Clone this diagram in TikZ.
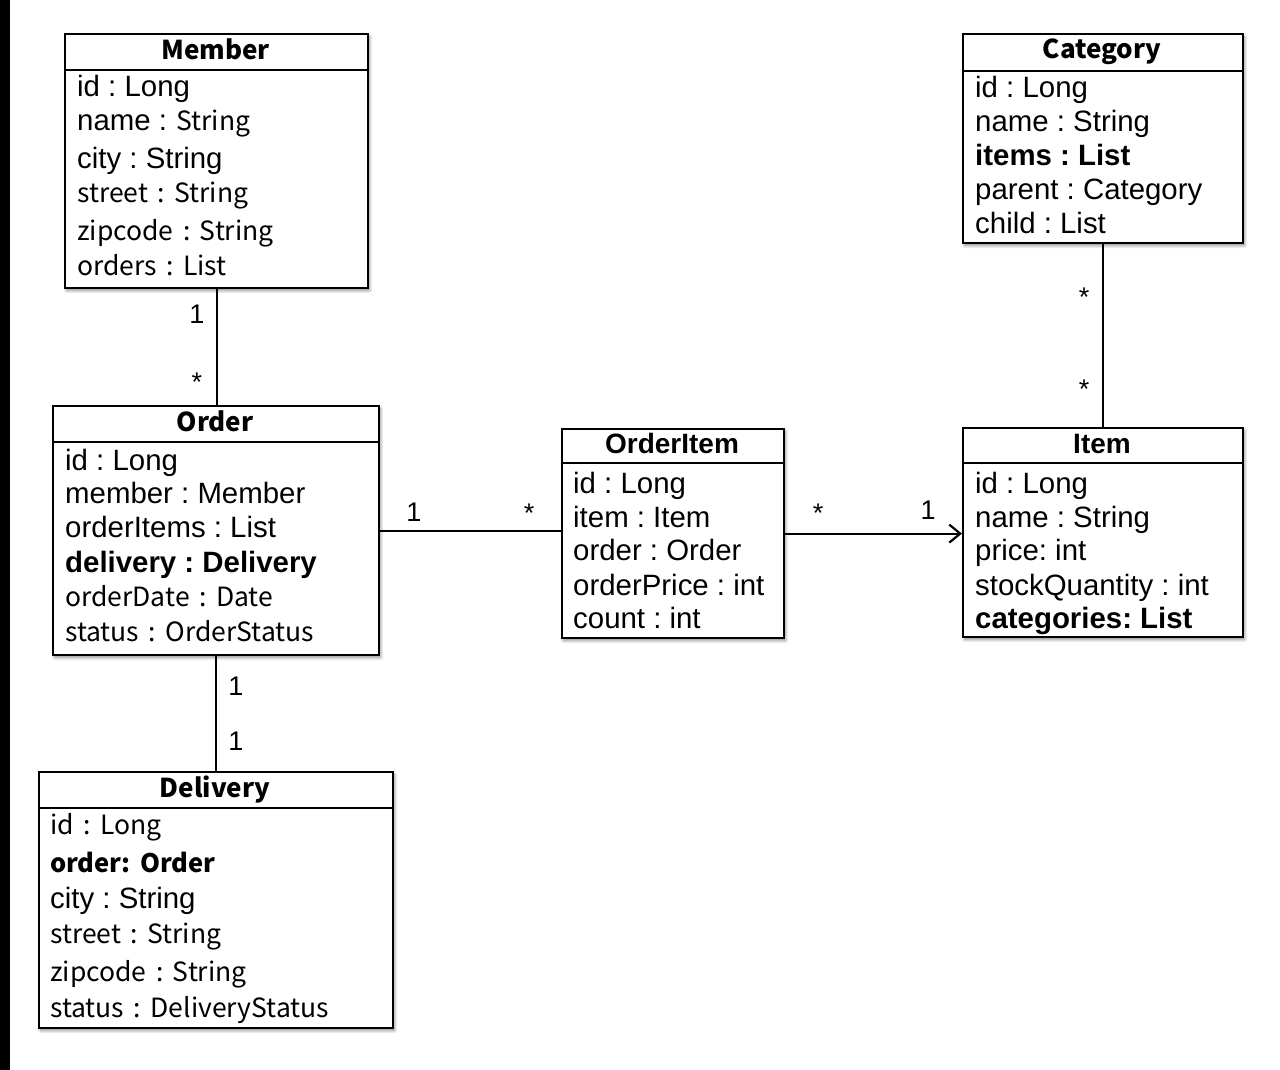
\documentclass[tikz,border=0pt]{standalone}
\usepackage{fontspec}
\setmainfont{Liberation Sans}
\newfontfamily\gothic[WordSpace=1.6]{Noto Sans CJK KR}
\usetikzlibrary{arrows.meta,shadows.blur}
\newcommand\gs{\gothic\fontsize{26.5}{30}\selectfont}
\frenchspacing
\begin{document}
\begin{tikzpicture}[x=1pt,y=-1pt,
  classbox/.style={draw=black, line width=2.2pt, fill=white, inner sep=0pt, anchor=north west,
    blur shadow={shadow xshift=1.5pt, shadow yshift=-2.5pt, shadow blur radius=3pt, shadow blur steps=8, shadow opacity=45}},
  divider/.style={line width=2pt},
  attr/.style={anchor=base west, inner sep=0pt, font=\fontsize{29.4}{31}\selectfont},
  gattr/.style={anchor=base west, inner sep=0pt, font=\gs},
  battr/.style={anchor=base west, inner sep=0pt, font=\bfseries\fontsize{29.4}{31}\selectfont},
  gbattr/.style={anchor=base west, inner sep=0pt, font=\gothic\bfseries\fontsize{25.5}{30}\selectfont},
  gtitle/.style={anchor=base, inner sep=0pt, font=\gothic\bfseries\fontsize{26}{30}\selectfont},
  htitle/.style={anchor=base, inner sep=0pt, font=\bfseries\fontsize{28}{30}\selectfont},
  conn/.style={line width=2.2pt},
  mult/.style={inner sep=0pt, font=\fontsize{27}{30}\selectfont}]
\useasboundingbox (0,0) rectangle (1280,1070);
\fill[black] (0,0) rectangle (9.5,1070);

% Member
\node[classbox, minimum width=303pt, minimum height=254pt] (member) at (64,33) {};
\draw[divider] (64,70.5) -- (367,70.5);
\node[gtitle] (memberT) at (215.5,59.5) {Member};
\node[attr] (mem1) at (77,97) {id : Long};
\node[attr] (mem2) at (77,131) {name :{\gs{} String}};
\node[attr] (mem3) at (77,168) {city : String};
\node[gattr] (mem4) at (77,202) {street : String};
\node[gattr] (mem5) at (77,240) {zipcode : String};
\node[gattr] (mem6) at (77,275) {orders : List};

% Order
\node[classbox, minimum width=326pt, minimum height=249pt] (order) at (52,405) {};
\draw[divider] (52,442) -- (378,442);
\node[gtitle] (orderT) at (215,431) {Order};
\node[attr] (ord1) at (65,470) {id : Long};
\node[attr] (ord2) at (65,503.5) {member : Member};
\node[attr] (ord3) at (65,537) {orderItems : List};
\node[battr] (ord4) at (65,572) {delivery : Delivery};
\node[gattr] (ord5) at (65,606) {orderDate : Date};
\node[gattr] (ord6) at (65,641) {status : OrderStatus};

% OrderItem
\node[classbox, minimum width=222pt, minimum height=209pt] (orderitem) at (561,428) {};
\draw[divider] (561,463) -- (783,463);
\node[htitle] (oiT) at (672,453) {OrderItem};
\node[attr] (oi1) at (573,493) {id : Long};
\node[attr] (oi2) at (573,527) {item : Item};
\node[attr] (oi3) at (573,560) {order : Order};
\node[attr] (oi4) at (573,595) {orderPrice : int};
\node[attr] (oi5) at (573,628.5) {count : int};

% Item
\node[classbox, minimum width=280pt, minimum height=209pt] (item) at (962,427) {};
\draw[divider] (962,463) -- (1242,463);
\node[htitle] (itemT) at (1102,453) {Item};
\node[attr] (it1) at (975,493) {id : Long};
\node[attr] (it2) at (975,527) {name : String};
\node[attr] (it3) at (975,560) {price: int};
\node[attr] (it4) at (975,595) {stockQuantity : int};
\node[battr] (it5) at (975,628.5) {categories: List};

% Category
\node[classbox, minimum width=280pt, minimum height=209pt] (category) at (962,33) {};
\draw[divider] (962,71) -- (1242,71);
\node[gtitle] (catT) at (1102,59) {Category};
\node[attr] (cat1) at (975,98) {id : Long};
\node[attr] (cat2) at (975,132) {name : String};
\node[battr] (cat3) at (975,166) {items : List};
\node[attr] (cat4) at (975,200) {parent : Category};
\node[attr] (cat5) at (975,233.5) {child : List};

% Delivery
\node[classbox, minimum width=354pt, minimum height=256pt] (delivery) at (38,771) {};
\draw[divider] (38,808) -- (392,808);
\node[gtitle] (delT) at (215,797.5) {Delivery};
\node[gattr] (del1) at (50,834) {id : Long};
\node[gbattr] (del2) at (50,872) {order: Order};
\node[attr] (del3) at (50,908.5) {city : String};
\node[gattr] (del4) at (50,943.5) {street : String};
\node[gattr] (del5) at (50,981) {zipcode : String};
\node[gattr] (del6) at (50,1017.5) {status : DeliveryStatus};

% connectors
\draw[conn] (member.south) -- (member.south |- order.north);
\draw[conn] (order.south) -- (order.south |- delivery.north);
\draw[conn] (category.south) -- (category.south |- item.north);
\draw[conn] (order.east) -- (order.east -| orderitem.west);
\draw[conn, -{Straight Barb[length=11pt, width=18pt, line width=2.2pt]}] (orderitem.east) -- (orderitem.east -| item.west);

% multiplicities
\node[mult] (l1) at (197,314) {1};
\node[mult] (l2) at (197,382) {*};
\node[mult] (l3) at (414,512) {1};
\node[mult] (l4) at (529,513) {*};
\node[mult] (l5) at (818,513) {*};
\node[mult] (l6) at (928,510) {1};
\node[mult] (l7) at (1084,297) {*};
\node[mult] (l8) at (1084,389) {*};
\node[mult] (l9) at (236,686) {1};
\node[mult] (l10) at (236,741) {1};
\end{tikzpicture}
\end{document}
